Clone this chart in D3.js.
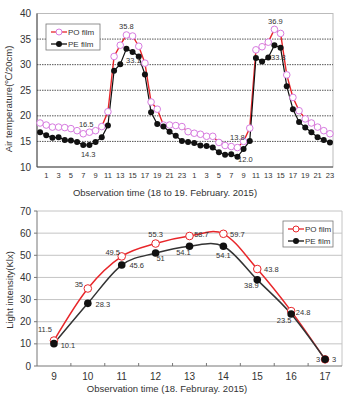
<!DOCTYPE html>
<html>
<head>
<meta charset="utf-8">
<script src="https://cdn.jsdelivr.net/npm/d3@7"></script>
<style>
  body { margin: 0; background: #fff; }
  svg { display: block; font-family: "Liberation Sans", Arial, sans-serif; }
</style>
</head>
<body>
<svg width="343" height="397"></svg>
<script>
// ---- data: air temperature, 18 to 19 Feb 2015 (hourly) ----
var hourLabels = [0,1,2,3,4,5,6,7,8,9,10,11,12,13,14,15,16,17,18,19,20,21,22,23,
                  0,1,2,3,4,5,6,7,8,9,10,11,12,13,14,15,16,17,18,19,20,21,22,23];
var tempPO = [18.6,18.2,17.8,17.8,17.7,17.5,17.1,16.5,16.8,17.1,17.9,20.8,
              31.6,33.8,35.8,35.6,33.6,30.3,22.7,21.3,18.2,18.2,18.1,17.9,
              16.9,16.6,16.4,16.0,16.0,14.8,14.2,14.0,13.8,15.0,17.6,32.9,
              33.5,34.4,36.9,36.1,28.0,23.6,21.0,19.4,18.6,17.8,17.1,16.5];
var tempPE = [16.8,16.2,15.7,15.8,15.3,15.2,14.9,14.3,14.3,14.9,15.8,18.1,
              28.8,30.1,33.1,32.5,31.6,28.1,20.7,18.4,17.9,16.9,16.1,15.1,
              14.9,14.7,14.2,14.1,13.8,12.9,12.4,12.5,12.0,13.5,15.1,31.3,
              30.6,31.4,33.8,33.3,25.8,21.3,18.8,17.7,16.8,15.8,15.3,14.8];
var tempTicks = [10,15,20,25,30,35,40];

// ---- data: light intensity, 18 Feb 2015 ----
var lightHours = [9,10,11,12,13,14,15,16,17];
var lightPO = [11.5,35,49.5,55.3,58.7,59.7,43.8,24.8,3];
var lightPE = [10.1,28.3,45.6,51,54.1,54.1,38.9,23.5,3];
var lightTicks = [0,10,20,30,40,50,60,70];

var seriesNames = ["PO film", "PE film"];

var svg = d3.select("svg");
svg.append("rect").attr("width", 343).attr("height", 397).attr("fill", "#fff");

var red = "#e8262a", pink = "#d77be0", black = "#111";

// =============== top chart ===============
var tp = { x0: 37, x1: 333, y0: 13.5, y1: 167 };
var xT = d3.scaleBand().domain(d3.range(hourLabels.length)).range([tp.x0, tp.x1]);
var yT = d3.scaleLinear().domain([10, 40]).range([tp.y1, tp.y0]);
var cx = function (i) { return xT(i) + xT.bandwidth() / 2; };

var g1 = svg.append("g");
// frame
g1.append("rect").attr("x", tp.x0).attr("y", tp.y0)
  .attr("width", tp.x1 - tp.x0).attr("height", tp.y1 - tp.y0)
  .attr("fill", "none").attr("stroke", "#bbb").attr("stroke-width", 1);
// grid
g1.selectAll(".grid").data(tempTicks.slice(1, -1)).enter().append("line")
  .attr("x1", tp.x0).attr("x2", tp.x1)
  .attr("y1", function (d) { return yT(d); }).attr("y2", function (d) { return yT(d); })
  .attr("stroke", "#555").attr("stroke-width", 1).attr("stroke-dasharray", "1.5,1");
// axes lines
g1.append("line").attr("x1", tp.x0).attr("x2", tp.x0).attr("y1", tp.y0).attr("y2", tp.y1)
  .attr("stroke", "#444");
g1.append("line").attr("x1", tp.x0).attr("x2", tp.x1).attr("y1", tp.y1).attr("y2", tp.y1)
  .attr("stroke", "#444");
// y ticks
g1.selectAll(".yl").data(tempTicks).enter().append("text")
  .attr("x", tp.x0 - 6).attr("y", function (d) { return yT(d); }).attr("dy", "0.35em")
  .attr("text-anchor", "end").attr("font-size", 10).attr("fill", "#333")
  .text(function (d) { return d; });
// x ticks (odd hours)
g1.selectAll(".xl").data(d3.range(hourLabels.length).filter(function (i) { return hourLabels[i] % 2 === 1; }))
  .enter().append("text")
  .attr("x", function (i) { return cx(i); }).attr("y", 175).attr("dy", "0.35em")
  .attr("text-anchor", "middle").attr("font-size", 7.5).attr("fill", "#333")
  .text(function (i) { return hourLabels[i]; });

g1.append("text").attr("x", 165).attr("y", 193).attr("dy", "0.35em")
  .attr("text-anchor", "middle").attr("font-size", 9.5).attr("fill", "#333")
  .text("Observation time (18 to 19. February. 2015)");
g1.append("text").attr("transform", "translate(9,99) rotate(-90)").attr("dy", "0.35em")
  .attr("text-anchor", "middle").attr("font-size", 9.5).attr("fill", "#333")
  .text("Air temperature(\u2103/20cm)");

var lineT = d3.line().x(function (d, i) { return cx(i); }).y(function (d) { return yT(d); });
g1.append("path").datum(tempPO).attr("d", lineT).attr("fill", "none").attr("stroke", red).attr("stroke-width", 1.4);
g1.append("path").datum(tempPE).attr("d", lineT).attr("fill", "none").attr("stroke", black).attr("stroke-width", 1.2);
g1.selectAll(".mpo").data(tempPO).enter().append("circle")
  .attr("cx", function (d, i) { return cx(i); }).attr("cy", function (d) { return yT(d); })
  .attr("r", 3.3).attr("fill", "#fff").attr("stroke", pink).attr("stroke-width", 1);
g1.selectAll(".mpe").data(tempPE).enter().append("circle")
  .attr("cx", function (d, i) { return cx(i); }).attr("cy", function (d) { return yT(d); })
  .attr("r", 3).attr("fill", black);

// data labels (index, series, offset)
var topLabels = [
  [14, tempPO, 0, -9], [14, tempPE, 7, 12], [7, tempPO, 3, -9], [7, tempPE, 5, 9],
  [32, tempPO, 0, -10], [32, tempPE, 8, 3], [38, tempPO, 1, -8], [38, tempPE, 4, 12]
];
g1.selectAll(".dl").data(topLabels).enter().append("text")
  .attr("x", function (d) { return cx(d[0]) + d[2]; })
  .attr("y", function (d) { return yT(d[1][d[0]]) + d[3]; }).attr("dy", "0.35em")
  .attr("text-anchor", "middle").attr("font-size", 7.5).attr("fill", "#333")
  .text(function (d) { return d[1][d[0]].toFixed(1); });

// legend
function legend(g, x, y, w, h, markPO) {
  g.append("rect").attr("x", x).attr("y", y).attr("width", w).attr("height", h)
    .attr("fill", "#fff").attr("stroke", "#777").attr("stroke-width", 0.8);
  seriesNames.forEach(function (name, k) {
    var ly = y + 8 + k * 12;
    g.append("line").attr("x1", x + 5).attr("x2", x + 21).attr("y1", ly).attr("y2", ly)
      .attr("stroke", k === 0 ? red : black).attr("stroke-width", 1.3);
    if (k === 0) g.append("circle").attr("cx", x + 13).attr("cy", ly).attr("r", 3)
      .attr("fill", "#fff").attr("stroke", markPO);
    else g.append("circle").attr("cx", x + 13).attr("cy", ly).attr("r", 3).attr("fill", black);
    g.append("text").attr("x", x + 22).attr("y", ly).attr("dy", "0.35em")
      .attr("font-size", 8).attr("fill", "#333").text(name);
  });
}
legend(g1, 46, 24, 54, 26, pink);

// =============== bottom chart ===============
var bot = { x0: 37, x1: 342, y0: 211, y1: 366 };
var xB = d3.scaleBand().domain(lightHours).range([bot.x0, bot.x1]);
var yB = d3.scaleLinear().domain([0, 70]).range([bot.y1, bot.y0]);
var bx = function (h) { return xB(h) + xB.bandwidth() / 2; };

var g2 = svg.append("g");
g2.selectAll(".grid").data(lightTicks.slice(1)).enter().append("line")
  .attr("x1", bot.x0).attr("x2", bot.x1)
  .attr("y1", function (d) { return yB(d); }).attr("y2", function (d) { return yB(d); })
  .attr("stroke", "#c4c4c4").attr("stroke-width", 1);
g2.append("line").attr("x1", bot.x1).attr("x2", bot.x1).attr("y1", bot.y0).attr("y2", bot.y1)
  .attr("stroke", "#c4c4c4");
g2.append("line").attr("x1", bot.x0).attr("x2", bot.x0).attr("y1", bot.y0).attr("y2", bot.y1)
  .attr("stroke", "#777");
g2.append("line").attr("x1", bot.x0).attr("x2", bot.x1).attr("y1", bot.y1).attr("y2", bot.y1)
  .attr("stroke", "#777");
g2.selectAll(".yt").data(lightTicks).enter().append("line")
  .attr("x1", bot.x0 - 3).attr("x2", bot.x0)
  .attr("y1", function (d) { return yB(d); }).attr("y2", function (d) { return yB(d); })
  .attr("stroke", "#777");
g2.selectAll(".xt").data(lightHours.slice(0, -1)).enter().append("line")
  .attr("x1", function (h) { return xB(h) + xB.bandwidth(); })
  .attr("x2", function (h) { return xB(h) + xB.bandwidth(); })
  .attr("y1", bot.y1).attr("y2", bot.y1 - 3).attr("stroke", "#777");
g2.selectAll(".yl").data(lightTicks).enter().append("text")
  .attr("x", bot.x0 - 6).attr("y", function (d) { return yB(d); }).attr("dy", "0.35em")
  .attr("text-anchor", "end").attr("font-size", 10).attr("fill", "#333")
  .text(function (d) { return d; });
g2.selectAll(".xl").data(lightHours).enter().append("text")
  .attr("x", function (h) { return bx(h); }).attr("y", 376).attr("dy", "0.35em")
  .attr("text-anchor", "middle").attr("font-size", 10).attr("fill", "#333")
  .text(function (h) { return h; });
g2.append("text").attr("x", 167).attr("y", 389).attr("dy", "0.35em")
  .attr("text-anchor", "middle").attr("font-size", 9.5).attr("fill", "#333")
  .text("Observation time (18. Februray. 2015)");
g2.append("text").attr("transform", "translate(10,290) rotate(-90)").attr("dy", "0.35em")
  .attr("text-anchor", "middle").attr("font-size", 9.5).attr("fill", "#333")
  .text("Light intensity(Klx)");

var lineB = d3.line().x(function (d, i) { return bx(lightHours[i]); }).y(function (d) { return yB(d); })
  .curve(d3.curveCatmullRom.alpha(0));
g2.append("path").datum(lightPO).attr("d", lineB).attr("fill", "none").attr("stroke", red).attr("stroke-width", 1.5);
g2.append("path").datum(lightPE).attr("d", lineB).attr("fill", "none").attr("stroke", "#333").attr("stroke-width", 1.5);
g2.selectAll(".mpo").data(lightPO).enter().append("circle")
  .attr("cx", function (d, i) { return bx(lightHours[i]); }).attr("cy", function (d) { return yB(d); })
  .attr("r", 3.8).attr("fill", "#fff").attr("stroke", red).attr("stroke-width", 1);
g2.selectAll(".mpe").data(lightPE).enter().append("circle")
  .attr("cx", function (d, i) { return bx(lightHours[i]); }).attr("cy", function (d) { return yB(d); })
  .attr("r", 3.8).attr("fill", black);

var poOff = [[-9,-11],[-9,-4],[-9,-4],[0,-9],[12,-2],[14,1],[14,0],[12,1],[9,0]];
var peOff = [[14,2],[15,1],[15,0],[5,5],[-6,6],[0,9],[-6,6],[-7,6],[-7,0]];
function labelsB(vals, off) {
  g2.selectAll(null).data(vals).enter().append("text")
    .attr("x", function (d, i) { return bx(lightHours[i]) + off[i][0]; })
    .attr("y", function (d, i) { return yB(d) + off[i][1]; }).attr("dy", "0.35em")
    .attr("text-anchor", "middle").attr("font-size", 7.5).attr("fill", "#333")
    .text(function (d) { return d; });
}
labelsB(lightPO, poOff);
labelsB(lightPE, peOff);

legend(g2, 283, 221, 50, 26, red);
</script>
</body>
</html>
